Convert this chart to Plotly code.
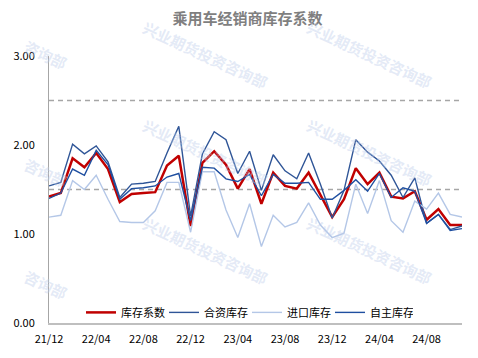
import plotly.graph_objects as go

months = ["21/12","22/01","22/02","22/03","22/04","22/05","22/06","22/07","22/08","22/09","22/10","22/11",
          "22/12","23/01","23/02","23/03","23/04","23/05","23/06","23/07","23/08","23/09","23/10","23/11",
          "23/12","24/01","24/02","24/03","24/04","24/05","24/06","24/07","24/08","24/09","24/10","24/11"]

total = [1.42,1.46,1.85,1.75,1.91,1.73,1.36,1.45,1.46,1.47,1.77,1.88,
         1.09,1.80,1.93,1.78,1.51,1.73,1.34,1.69,1.54,1.51,1.69,1.44,
         1.19,1.39,1.74,1.56,1.69,1.42,1.40,1.48,1.16,1.28,1.10,1.10]
jv = [1.54,1.58,2.01,1.90,1.99,1.81,1.41,1.56,1.57,1.59,1.91,2.21,
      1.20,1.90,2.15,2.06,1.68,1.93,1.49,1.89,1.71,1.62,1.91,1.56,
      1.18,1.49,2.06,1.92,1.82,1.66,1.41,1.63,1.12,1.22,1.05,1.09]
imp = [1.19,1.21,1.60,1.50,1.66,1.39,1.14,1.13,1.13,1.26,1.58,1.58,
       1.02,1.70,1.70,1.27,0.96,1.34,0.86,1.21,1.08,1.13,1.35,1.10,
       0.96,1.01,1.56,1.23,1.60,1.15,1.02,1.37,1.28,1.46,1.22,1.19]
own = [1.40,1.46,1.73,1.66,1.94,1.78,1.39,1.51,1.52,1.54,1.64,1.68,
       1.15,1.75,1.74,1.62,1.59,1.67,1.43,1.67,1.57,1.57,1.58,1.39,
       1.39,1.49,1.61,1.48,1.68,1.41,1.52,1.48,1.12,1.22,1.04,1.06]

tick_labels = ["21/12","22/04","22/08","22/12","23/04","23/08","23/12","24/04","24/08"]
y_ticks = [0, 1, 2, 3]
y_tick_text = ["0.00", "1.00", "2.00", "3.00"]
ref_levels = [2.5, 1.5]

series_names = ["库存系数", "合资库存", "进口库存", "自主库存"]
series_vals = [total, jv, imp, own]
series_colors = ["#C00000", "#2F5597", "#B4C7E7", "#1F4FA0"]
series_widths = [2.5, 1.4, 1.4, 1.4]

FONT = "Noto Sans CJK SC"
W, H = 478, 358
L, R, T, B = 49, 16, 56, 25
pw, ph = W - L - R, H - T - B

fig = go.Figure()
for name, vals, col, wd in zip(series_names, series_vals, series_colors, series_widths):
    fig.add_trace(go.Scatter(x=months, y=vals, name=name, mode="lines",
                             line=dict(color=col, width=wd)))

for lv in ref_levels:
    fig.add_shape(type="line", xref="x", yref="y", x0=0, x1=len(months) - 1, y0=lv, y1=lv,
                  line=dict(color="#A6A6A6", width=1.5, dash="5px,4px"), layer="below")

def px2paper(px, py):
    return (px - L) / pw, (H - B - py) / ph

WM_FULL = "兴业期货投资咨询部"
WM_PART = "咨询部"
wm_marks = [(WM_PART, 18, 32), (WM_FULL, 205, 12), (WM_FULL, 438, 12),
            (WM_PART, 18, 177), (WM_FULL, 205, 156), (WM_FULL, 438, 156),
            (WM_PART, 18, 316), (WM_FULL, 205, 300), (WM_FULL, 438, 300)]

annotations = []
for txt, cx, cy in wm_marks:
    xp, yp = px2paper(cx, cy)
    annotations.append(dict(text="<b>" + txt + "</b>", x=xp, y=yp, xref="paper", yref="paper",
                            showarrow=False, textangle=25,
                            font=dict(family=FONT, size=15, color="rgba(190,205,235,0.42)")))

fig.update_layout(
    width=W, height=H,
    margin=dict(l=L, r=R, t=T, b=B),
    paper_bgcolor="white", plot_bgcolor="white",
    font=dict(family=FONT, size=11, color="#000000"),
    title=dict(text="<b>乘用车经销商库存系数</b>", x=247.5 / W, xref="container", xanchor="center",
               y=1 - 19 / H, yref="container", yanchor="middle",
               font=dict(family=FONT, size=15, color="#7F7F7F")),
    xaxis=dict(type="category", range=[0, len(months) - 1], tickmode="array",
               tickvals=tick_labels, ticktext=tick_labels, showgrid=False, zeroline=False,
               showline=True, linecolor="#BFBFBF", linewidth=1.5,
               ticks="outside", ticklen=5, tickcolor="rgba(0,0,0,0)",
               tickfont=dict(size=11, family=FONT)),
    yaxis=dict(range=[0, 3], tickvals=y_ticks, ticktext=y_tick_text, showgrid=False,
               zeroline=False, showline=True, linecolor="#A6A6A6", linewidth=1,
               ticks="outside", ticklen=11, tickcolor="rgba(0,0,0,0)",
               tickfont=dict(size=11, family=FONT)),
    legend=dict(orientation="h", x=(81 - L) / pw, xanchor="left", y=(H - B - 322) / ph,
                yanchor="middle", bgcolor="rgba(0,0,0,0)", font=dict(size=11, family=FONT),
                traceorder="normal", entrywidth=38, entrywidthmode="pixels"),
    showlegend=True,
    annotations=annotations,
)

fig.write_html("out.html")
